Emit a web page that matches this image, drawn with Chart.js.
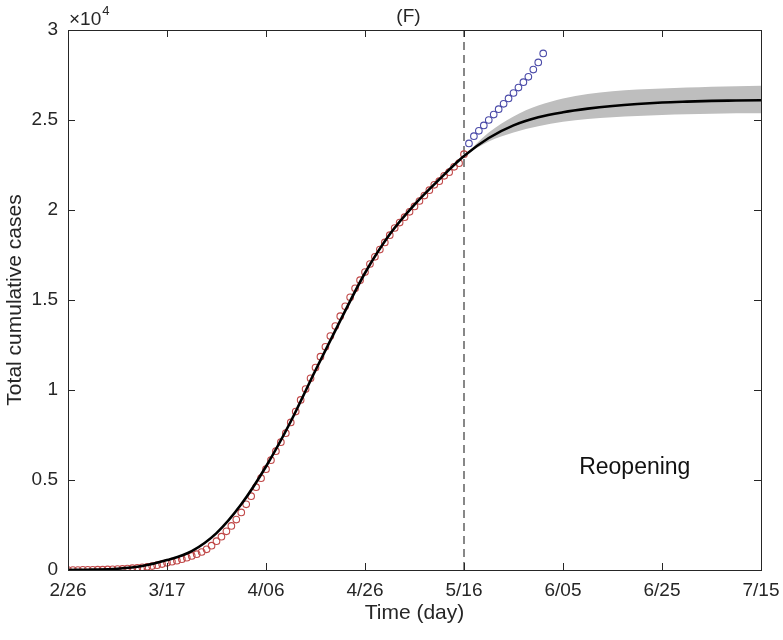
<!DOCTYPE html>
<html>
<head>
<meta charset="utf-8">
<script src="https://cdn.jsdelivr.net/npm/chart.js@4.4.1/dist/chart.umd.min.js"></script>
<style>
  html, body { margin: 0; padding: 0; background: #fff; }
  canvas { display: block; }
</style>
</head>
<body>
<canvas id="chart" width="783" height="640"></canvas>
<script>
// x axis: days after 2/26, ticks every 20 days
const dayTicks = [0, 20, 40, 60, 80, 100, 120, 140];
const dayLabels = ["2/26", "3/17", "4/06", "4/26", "5/16", "6/05", "6/25", "7/15"];
const yTicks = [0, 0.5, 1, 1.5, 2, 2.5, 3];
const yLabels = ["0", "0.5", "1", "1.5", "2", "2.5", "3"];
const reopenDay = 80;

// observed cumulative cases (x10^4), one per day from day 0
const fitCases = [
  0.000, 0.000, 0.000, 0.001, 0.001, 0.001, 0.002, 0.002, 0.003, 0.004, 0.005,
  0.006, 0.008, 0.010, 0.012, 0.015, 0.018, 0.022, 0.027, 0.033, 0.040,
  0.046, 0.052, 0.060, 0.068, 0.078, 0.088, 0.100, 0.115, 0.135, 0.160,
  0.185, 0.215, 0.245, 0.280, 0.320, 0.365, 0.410, 0.460, 0.510, 0.560,
  0.610, 0.660, 0.710, 0.760, 0.820, 0.880, 0.945, 1.005, 1.065, 1.125,
  1.185, 1.240, 1.300, 1.355, 1.410, 1.465, 1.515, 1.565, 1.610, 1.655,
  1.700, 1.740, 1.780, 1.820, 1.860, 1.900, 1.930, 1.960, 1.990, 2.020,
  2.050, 2.080, 2.110, 2.140, 2.160, 2.190, 2.210, 2.240, 2.260, 2.310
];

// observed after reopening, days 81..96
const reopenStart = 81;
const reopenCases = [
  2.37, 2.41, 2.44, 2.47, 2.50, 2.53, 2.56, 2.59,
  2.62, 2.65, 2.68, 2.71, 2.74, 2.78, 2.82, 2.87
];

// model curve
const curveDays = [0, 5, 10, 15, 20, 25, 30, 35, 40, 45, 50, 55, 60, 65, 70,
  75, 80, 85, 90, 95, 100, 105, 110, 115, 120, 125, 130, 135, 140];
const curveCases = [0.000, 0.002, 0.007, 0.022, 0.055, 0.105, 0.205, 0.365, 0.575,
  0.825, 1.110, 1.385, 1.650, 1.865, 2.030, 2.170, 2.300, 2.400, 2.470, 2.515,
  2.543, 2.563, 2.578, 2.589, 2.597, 2.602, 2.606, 2.608, 2.610];

// uncertainty band after reopening
const bandDays = [80, 85, 90, 95, 100, 105, 110, 115, 120, 125, 130, 135, 140];
const bandUpper = [2.30, 2.43, 2.52, 2.58, 2.62, 2.645, 2.66, 2.67, 2.675, 2.68, 2.685, 2.688, 2.69];
const bandLower = [2.30, 2.38, 2.43, 2.465, 2.49, 2.505, 2.515, 2.522, 2.528, 2.532, 2.535, 2.537, 2.538];

const FONT = "'Liberation Sans', Arial, Helvetica, sans-serif";
const INK = "#262626";

const toXY = (xs, ys) => ys.map((y, i) => ({ x: xs[i], y }));

const framePlugin = {
  id: "frame",
  afterDatasetsDraw(chart) {
    const { ctx, chartArea: a, scales } = chart;
    const xs = scales.x, ys = scales.y;
    ctx.save();
    ctx.strokeStyle = INK;
    ctx.lineWidth = 1;
    ctx.beginPath();
    dayTicks.forEach(d => {
      const px = Math.round(xs.getPixelForValue(d)) + 0.5;
      ctx.moveTo(px, a.bottom); ctx.lineTo(px, a.bottom - 7);
      ctx.moveTo(px, a.top); ctx.lineTo(px, a.top + 7);
    });
    yTicks.forEach(v => {
      const py = Math.round(ys.getPixelForValue(v)) + 0.5;
      ctx.moveTo(a.left, py); ctx.lineTo(a.left + 7, py);
      ctx.moveTo(a.right, py); ctx.lineTo(a.right - 7, py);
    });
    ctx.stroke();
    ctx.strokeRect(Math.round(a.left) + 0.5, Math.round(a.top) + 0.5,
      Math.round(a.right - a.left), Math.round(a.bottom - a.top));

    ctx.fillStyle = INK;
    ctx.textBaseline = "alphabetic";
    ctx.textAlign = "center";
    ctx.font = "19px " + FONT;
    ctx.fillText("(F)", (a.left + a.right) / 2 - 6, 22);

    ctx.textAlign = "left";
    ctx.font = "19px " + FONT;
    ctx.fillText("\u00d710", a.left + 1, 25);
    const w = ctx.measureText("\u00d710").width;
    ctx.font = "13px " + FONT;
    ctx.fillText("4", a.left + 2 + w, 15);

    ctx.textAlign = "center";
    ctx.textBaseline = "middle";
    ctx.font = "23px " + FONT;
    ctx.fillStyle = "#111";
    ctx.fillText("Reopening", xs.getPixelForValue(114.5), ys.getPixelForValue(0.57));
    ctx.restore();
  }
};

new Chart(document.getElementById("chart"), {
  type: "line",
  data: {
    datasets: [
      {
        label: "model",
        data: toXY(curveDays, curveCases),
        borderColor: "#000",
        borderWidth: 2.6,
        pointRadius: 0,
        cubicInterpolationMode: "monotone",
        fill: false
      },
      {
        label: "after reopening",
        data: reopenCases.map((y, i) => ({ x: reopenStart + i, y })),
        showLine: false,
        pointRadius: 3.3,
        pointBorderWidth: 1.1,
        pointBorderColor: "#4a4aa8",
        pointBackgroundColor: "rgba(0,0,0,0)"
      },
      {
        label: "observed",
        data: fitCases.map((y, i) => ({ x: i, y })),
        showLine: false,
        pointRadius: 3.3,
        pointBorderWidth: 1.1,
        pointBorderColor: "#c04848",
        pointBackgroundColor: "rgba(0,0,0,0)"
      },
      {
        label: "reopen",
        data: [{ x: reopenDay, y: 0 }, { x: reopenDay, y: 3 }],
        borderColor: "#555",
        borderWidth: 1.4,
        borderDash: [8, 5],
        pointRadius: 0,
        fill: false
      },
      {
        label: "upper",
        data: toXY(bandDays, bandUpper),
        borderWidth: 0,
        borderColor: "rgba(0,0,0,0)",
        backgroundColor: "#bebebe",
        pointRadius: 0,
        cubicInterpolationMode: "monotone",
        fill: "+1"
      },
      {
        label: "lower",
        data: toXY(bandDays, bandLower),
        borderWidth: 0,
        borderColor: "rgba(0,0,0,0)",
        pointRadius: 0,
        cubicInterpolationMode: "monotone",
        fill: false
      }
    ]
  },
  options: {
    responsive: false,
    animation: false,
    devicePixelRatio: 1,
    layout: { padding: { left: 0, right: 22, top: 30, bottom: 0 } },
    plugins: { legend: { display: false }, tooltip: { enabled: false } },
    scales: {
      x: {
        type: "linear",
        min: 0,
        max: 140,
        afterBuildTicks: s => { s.ticks = dayTicks.map(v => ({ value: v })); },
        afterFit: s => { s.height = 70; s.paddingLeft = 0; s.paddingRight = 0; },
        grid: { display: false, drawTicks: false },
        border: { display: false },
        ticks: {
          padding: 9,
          color: INK,
          font: { family: FONT, size: 19 },
          maxRotation: 0,
          callback: v => dayLabels[dayTicks.indexOf(v)]
        },
        title: {
          display: true,
          text: "Time (day)",
          color: INK,
          font: { family: FONT, size: 21 },
          padding: { top: 0, bottom: 14 }
        }
      },
      y: {
        min: 0,
        max: 3,
        afterBuildTicks: s => { s.ticks = yTicks.map(v => ({ value: v })); },
        afterFit: s => { s.width = 68; s.paddingTop = 0; s.paddingBottom = 0; },
        grid: { display: false, drawTicks: false },
        border: { display: false },
        ticks: {
          padding: 10,
          color: INK,
          font: { family: FONT, size: 19 },
          callback: v => yLabels[yTicks.indexOf(v)]
        },
        title: {
          display: true,
          text: "Total cumulative cases",
          color: INK,
          font: { family: FONT, size: 21 },
          padding: { top: 3, bottom: 0 }
        }
      }
    }
  },
  plugins: [framePlugin]
});
</script>
</body>
</html>
